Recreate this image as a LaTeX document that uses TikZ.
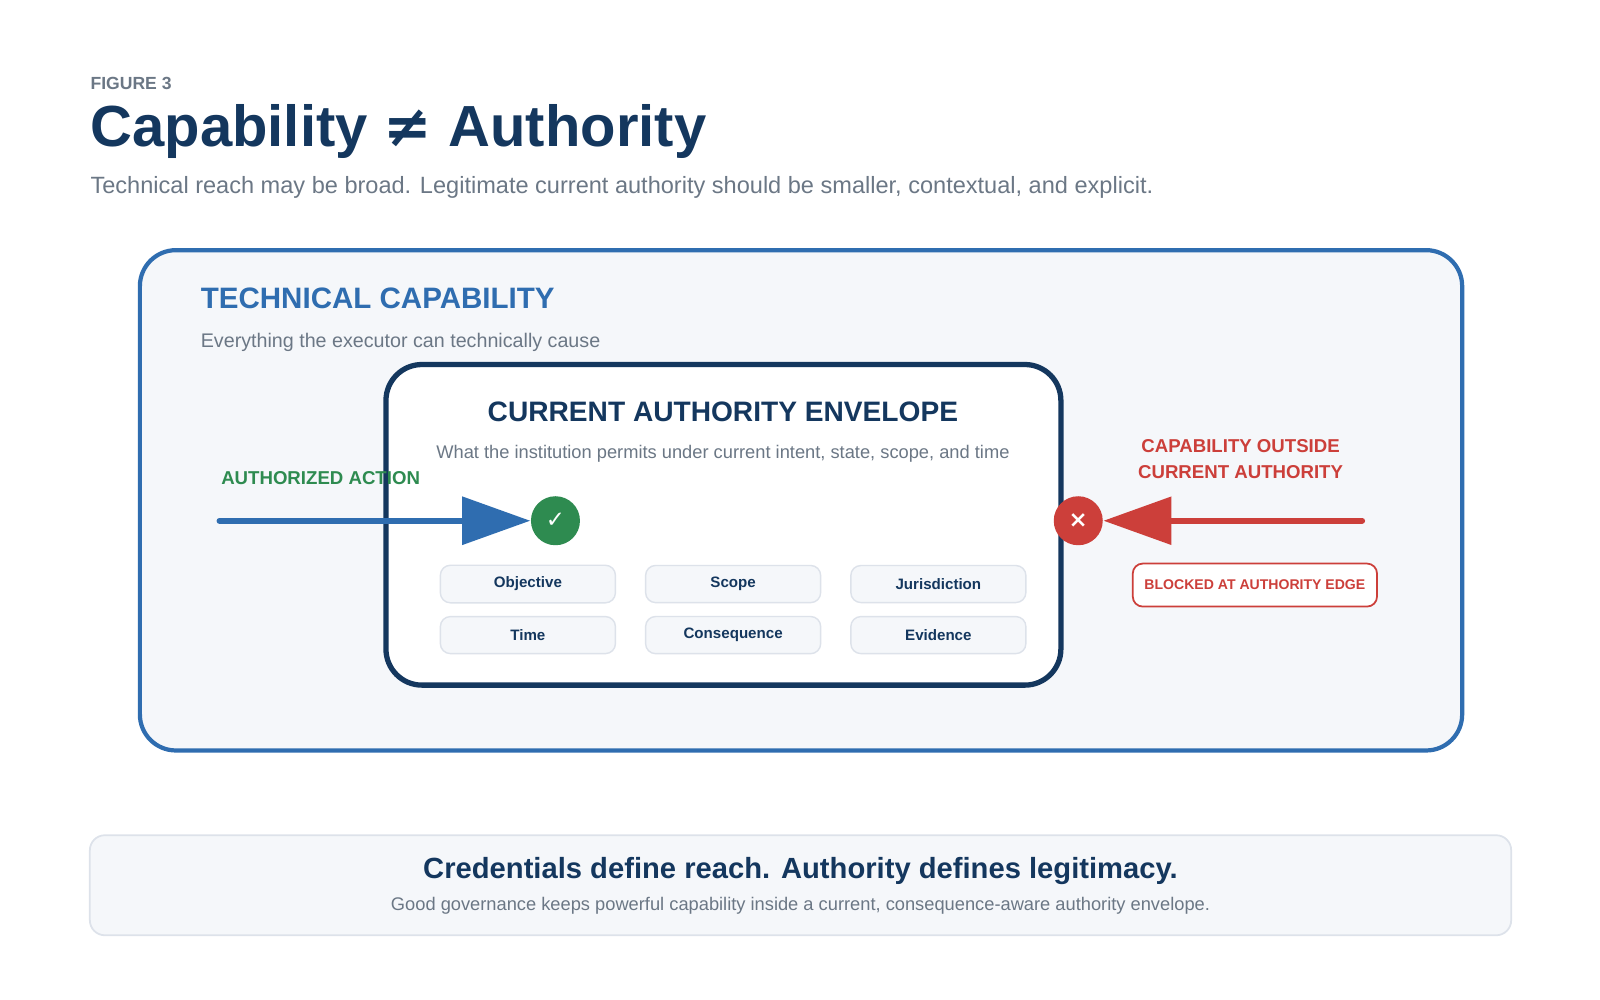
\documentclass[tikz,border=0pt]{standalone}
\usepackage{fontspec}
\setmainfont{Liberation Sans}
\newfontfamily\symfont{DejaVu Sans}
\usetikzlibrary{arrows.meta,positioning}
\definecolor{navy}{HTML}{14375E}
\definecolor{capblue}{HTML}{2F6DB0}
\definecolor{muted}{HTML}{6B7785}
\definecolor{okgreen}{HTML}{2E8B50}
\definecolor{nored}{HTML}{CC3F3A}
\definecolor{panel}{HTML}{F5F7FA}
\definecolor{chipline}{HTML}{DDE2EA}
\tikzset{heading/.style={anchor=base west, inner sep=0pt}}
\tikzset{caption text/.style={inner sep=0pt, text=muted}}
\tikzset{chip/.style={draw=chipline, fill=panel, rounded corners=0.1cm, line width=0.4pt,
    minimum width=1.75cm, minimum height=0.37cm, text=navy,
    font=\bfseries\fontsize{4.3}{5}\selectfont}}
\tikzset{marker/.style={circle, minimum size=0.49cm, inner sep=0pt, text=white,
    font=\symfont\bfseries\fontsize{6.5}{7}\selectfont}}
\tikzset{push arrow/.style={line width=1.7pt, line cap=round,
    -{Triangle[length=6.8mm,width=4.7mm]}}}
\begin{document}
\begin{tikzpicture}[x=0.01021cm, y=-0.01021cm]
  \useasboundingbox (0,0) rectangle (1567,979);

  % header
  \node [heading, text=muted, font=\bfseries\fontsize{5}{6}\selectfont] (fig) at (88,88) {FIGURE 3};
  \node [heading, text=navy, font=\bfseries\fontsize{16.5}{19}\selectfont] (title) at (88,143)
    {Capability {\symfont ≠} Authority};
  \node [heading, caption text, font=\fontsize{6.7}{8}\selectfont] (sub) at (88,190)
    {Technical reach may be broad. Legitimate current authority should be smaller, contextual, and explicit.};

  % capability region
  \draw [capblue, line width=1.2pt, fill=panel, rounded corners=0.36cm] (137,245) rectangle (1432,735);
  \node [heading, text=capblue, font=\bfseries\fontsize{8.4}{10}\selectfont] (cap) at (196,302) {TECHNICAL CAPABILITY};
  \node [heading, caption text, font=\fontsize{5.6}{7}\selectfont] (capsub) at (196,340)
    {Everything the executor can technically cause};

  % authority envelope
  \draw [navy, line width=1.5pt, fill=white, rounded corners=0.36cm] (378,357) rectangle (1039,671);
  \node [text=navy, inner sep=0pt, font=\bfseries\fontsize{8}{9}\selectfont] (env) at (708,403)
    {CURRENT AUTHORITY ENVELOPE};
  \node [caption text, font=\fontsize{5.2}{6}\selectfont] (envsub) at (708,444)
    {What the institution permits under current intent, state, scope, and time};

  \node [chip] (objective)    at (517,572) {Objective};
  \node [chip] (scope)        at (718,572) {Scope};
  \node [chip] (jurisdiction) at (919,572) {Jurisdiction};
  \node [chip] (time)         at (517,622) {Time};
  \node [chip] (consequence)  at (718,622) {Consequence};
  \node [chip] (evidence)     at (919,622) {Evidence};

  % authorized action
  \node [marker, fill=okgreen] (ok) at (544,510) {✓};
  \coordinate (okstart) at (215,510);
  \draw [push arrow, capblue] (okstart) -- (ok.west);
  \node [heading, text=okgreen, font=\bfseries\fontsize{5.3}{6}\selectfont] (oklabel) at (216,475) {AUTHORIZED ACTION};

  % blocked capability
  \node [marker, fill=nored] (no) at (1056,510) {×};
  \coordinate (nostart) at (1334,510);
  \draw [push arrow, nored] (nostart) -- (no.east);
  \node [text=nored, align=center, inner sep=0pt, font=\bfseries\fontsize{5.3}{7.4}\selectfont] (nolabel)
    at (1215,450) {CAPABILITY OUTSIDE\\CURRENT AUTHORITY};
  \node [draw=nored, fill=white, rounded corners=0.1cm, text=nored, line width=0.5pt,
    minimum width=2.4cm, minimum height=0.43cm, font=\bfseries\fontsize{4}{5}\selectfont]
    (blocked) at (1229,573) {BLOCKED AT AUTHORITY EDGE};

  % takeaway
  \draw [draw=chipline, fill=panel, rounded corners=0.15cm, line width=0.5pt] (88,818) rectangle (1480,916);
  \node [text=navy, inner sep=0pt, font=\bfseries\fontsize{8.3}{10}\selectfont] (take) at (784,853)
    {Credentials define reach. Authority defines legitimacy.};
  \node [caption text, font=\fontsize{5.2}{6}\selectfont] (takesub) at (784,887)
    {Good governance keeps powerful capability inside a current, consequence-aware authority envelope.};
\end{tikzpicture}
\end{document}
